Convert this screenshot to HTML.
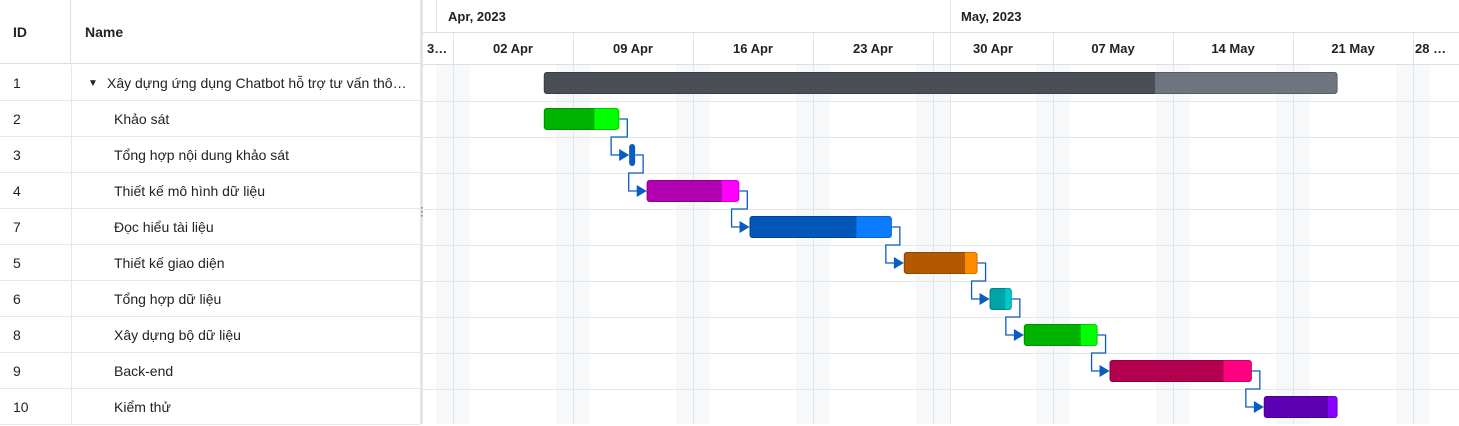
<!DOCTYPE html>
<html><head><meta charset="utf-8"><style>
body{margin:0;width:1459px;height:424px;overflow:hidden;background:#fff;font-family:"Liberation Sans","Noto Sans CJK SC",sans-serif;font-size:14px;color:#222}
.grid{position:absolute;left:0;top:0;width:420px;height:424px;border-right:1px solid #dcdfe4}
.hd{position:absolute;top:0;height:64px;border-bottom:1px solid #dcdfe4;font-weight:bold;line-height:64px;font-size:14px}
.row{position:absolute;left:0;width:420px;height:35px;border-bottom:1px solid #e4e7eb;line-height:37px}
.row span{position:absolute;white-space:nowrap}
.split{position:absolute;left:420px;top:0;width:3px;height:424px;background:#e1e4e8}
</style></head><body>
<div class="grid">
<div class="hd" style="left:0;width:71px;border-right:1px solid #dcdfe4;padding-left:13px;box-sizing:border-box">ID</div>
<div class="hd" style="left:71px;width:349px;padding-left:14px;box-sizing:border-box">Name</div>
<div id="rows"></div>
<div style="position:absolute;left:71px;top:65px;width:1px;height:359px;background:#e4e7eb"></div>
</div>
<div class="split"><div style="position:absolute;left:0;top:205px;font-size:12px;line-height:4px;color:#444">·<br>·<br>·</div></div>
<svg id="chart" style="position:absolute;left:423px;top:0" width="1036" height="424"></svg>
<script>
const ids=["1","2","3","4","7","5","6","8","9","10"];
const names=["Xây dựng ứng dụng Chatbot hỗ trợ tư vấn thô…","Khảo sát","Tổng hợp nội dung khảo sát","Thiết kế mô hình dữ liệu","Đọc hiểu tài liệu","Thiết kế giao diện","Tổng hợp dữ liệu","Xây dựng bộ dữ liệu","Back-end","Kiểm thử"];
// days relative to 02 Apr 2023
const starts=[5.3,5.3,10.45,11.3,17.3,26.3,31.3,33.3,38.3,47.3];
const ends=[51.6,9.7,10.45,16.7,25.6,30.6,32.6,37.6,46.6,51.6];
const progress=[0.77,0.67,1,0.81,0.75,0.83,0.7,0.77,0.8,0.87];
const weekLabels=["3…","02 Apr","09 Apr","16 Apr","23 Apr","30 Apr","07 May","14 May","21 May","28 …"];
const monthLabels=["Apr, 2023","May, 2023"];
const darkC=["#4a4f57","#00b300","#0057b8","#b000b0","#0057b8","#b35900","#00a3a8","#00b300","#b3004f","#5c00b3"];
const lightC=["#6f757e","#00ff00","#0057b8","#ff00ff","#0a7cff","#ff8c00","#00c8cc","#00ff00","#ff0080","#8a00ff"];
const X0=30, DAY=120/7, ROW0=65, RH=36;
const x=d=>X0+d*DAY, yc=i=>ROW0+i*RH+18;
const rows=document.getElementById('rows');
ids.forEach((id,i)=>{const r=document.createElement('div');r.className='row';r.style.top=(ROW0+i*RH)+'px';


r.innerHTML='<span style="left:13px">'+id+'</span>'+(i==0?'<span style="left:88px;font-size:10px">▼</span><span style="left:107px">':'<span style="left:114px">')+names[i]+'</span>';rows.appendChild(r);});
const svg=document.getElementById('chart');const NS='http://www.w3.org/2000/svg';
function el(t,a,p){const e=document.createElementNS(NS,t);for(const k in a)e.setAttribute(k,a[k]);(p||svg).appendChild(e);return e;}
// weekend shading
for(let d=-1;d<60;d+=7){el('rect',{x:x(d),y:65,width:DAY*2,height:359,fill:'#f7f8fa'});}
// horizontal lines
el('line',{x1:0,x2:1036,y1:32.5,y2:32.5,stroke:'#dcdfe4'});el('line',{x1:0,x2:1036,y1:64.5,y2:64.5,stroke:'#dcdfe4'});
for(let i=1;i<10;i++)el('line',{x1:0,x2:1036,y1:ROW0+i*RH+0.5,y2:ROW0+i*RH+0.5,stroke:'#e4e7eb'});
// week columns
weekLabels.forEach((w,i)=>{const xs=i==0?0:x((i-1)*7), xe=x(i*7);
if(i>0)el('line',{x1:xs+0.5,x2:xs+0.5,y1:32,y2:424,stroke:'#e1e4e8'});
const t=el('text',{x:i==0?4:(i==9?992:(xs+xe)/2),y:53,'font-size':13,'font-weight':'bold','text-anchor':(i==0||i==9)?'start':'middle',fill:'#222'});t.textContent=w;

});
// months
el('line',{x1:527.5,x2:527.5,y1:0,y2:424,stroke:'#e1e4e8'});
el('line',{x1:13.5,x2:13.5,y1:0,y2:32,stroke:'#e1e4e8'});
[[25,monthLabels[0]],[538,monthLabels[1]]].forEach(m=>{const t=el('text',{x:m[0],y:21,'font-size':13,'font-weight':'bold',fill:'#222'});t.textContent=m[1];

});
// dependencies
for(let i=1;i<9;i++){const ex=x(ends[i])+(i==2?3:0), ny=yc(i)+18, nx=x(starts[i+1])-(i+1==2?3:0);
el('polyline',{points:`${ex},${yc(i)} ${ex+8},${yc(i)} ${ex+8},${ny} ${nx-18},${ny} ${nx-18},${yc(i+1)} ${nx-9},${yc(i+1)}`,fill:'none',stroke:'#0a5cc2','stroke-width':1.3});
const a=el('polygon',{points:`${nx-10},${yc(i+1)-6} ${nx},${yc(i+1)} ${nx-10},${yc(i+1)+6}`,fill:'#0a5cc2'});

}
// bars
ids.forEach((id,i)=>{
if(i==2){const r=el('rect',{x:x(starts[i])-3,y:yc(i)-11,width:6,height:22,rx:3,fill:'#0a5cc2'});

return;}
const xs=x(starts[i]),w=x(ends[i])-xs,g=el('g',{});


el('rect',{x:xs,y:yc(i)-11,width:w,height:22,rx:3,fill:lightC[i]},g);
el('rect',{x:xs,y:yc(i)-11,width:w*progress[i],height:22,rx:3,fill:darkC[i]},g);
el('rect',{x:xs+w*progress[i]-3,y:yc(i)-11,width:3,height:22,fill:darkC[i]},g);
el('rect',{x:xs+0.5,y:yc(i)-10.5,width:w-1,height:21,rx:3,fill:'none',stroke:'rgba(0,0,0,0.2)'},g);});
</script>
</body></html>
